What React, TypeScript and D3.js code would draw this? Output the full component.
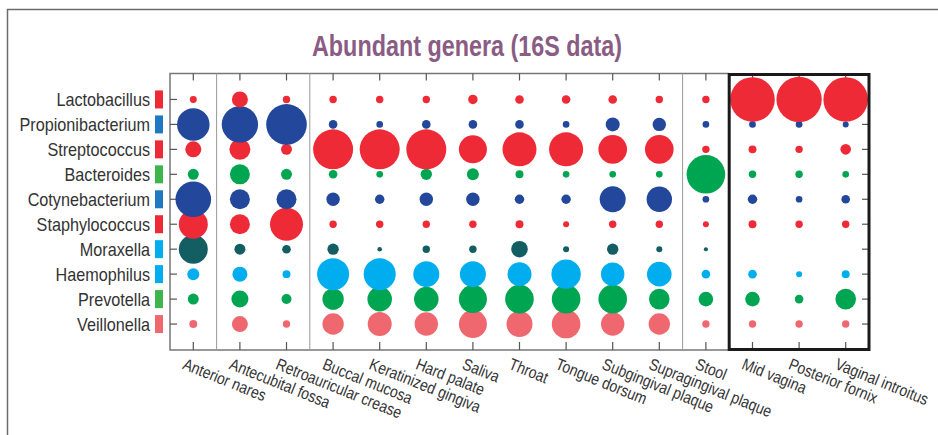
import * as d3 from "d3";

// sampling sites (columns)
const sites = [
  "Anterior nares",
  "Antecubital fossa",
  "Retroauricular crease",
  "Buccal mucosa",
  "Keratinized gingiva",
  "Hard palate",
  "Saliva",
  "Throat",
  "Tongue dorsum",
  "Subgingival plaque",
  "Supragingival plaque",
  "Stool",
  "Mid vagina",
  "Posterior fornix",
  "Vaginal introitus",
];

// genera (rows)
const genera = [
  "Lactobacillus",
  "Propionibacterium",
  "Streptococcus",
  "Bacteroides",
  "Cotynebacterium",
  "Staphylococcus",
  "Moraxella",
  "Haemophilus",
  "Prevotella",
  "Veillonella",
];

// relative abundance (%) per genus, one value per site
const lactobacillus = [2.3, 12.1, 2.6, 2.6, 2.6, 2.6, 4.2, 3.5, 3.5, 3.5, 2.6, 2.6, 94, 97, 94];
const propionibacterium = [50, 62.5, 78, 3.5, 2.1, 3.5, 3.5, 3.5, 2.1, 9.3, 8.5, 2.1, 2.1, 2.1, 1.7];
const streptococcus = [12.1, 20.8, 5.7, 75.6, 75.6, 75.6, 37.1, 54.6, 54.6, 38.7, 38.7, 2.6, 3.0, 2.6, 5.3];
const bacteroides = [5.7, 18.9, 5.7, 3.5, 2.1, 6.1, 6.8, 3.0, 2.1, 2.1, 2.1, 70.4, 2.6, 2.6, 2.1];
const cotynebacterium = [60, 18.9, 18.9, 8.5, 4.2, 8.5, 8.5, 4.2, 4.2, 31.9, 30.5, 2.1, 4.2, 2.1, 3.5];
const staphylococcus = [39.7, 18.9, 51.5, 2.6, 2.6, 2.6, 2.6, 3.0, 1.7, 2.6, 2.6, 1.7, 3.0, 2.6, 2.6];
const moraxella = [39.7, 5.7, 3.5, 6.1, 1.0, 2.6, 2.6, 13.0, 1.7, 6.1, 1.7, 0.8, 0, 0, 0];
const haemophilus = [6.8, 10.6, 3.0, 48.4, 48.4, 31.9, 31.9, 27.2, 40.8, 25.9, 28.6, 3.5, 3.5, 1.7, 3.0];
const prevotella = [5.7, 13.7, 4.7, 21.6, 28.6, 28.6, 37.1, 38.7, 38.7, 38.7, 20.1, 10.1, 10.1, 3.5, 20.1];
const veillonella = [3.0, 12.1, 2.6, 21.6, 27.2, 25.9, 37.1, 31.9, 38.7, 25.9, 21.6, 2.6, 2.6, 2.6, 2.6];

const values = [
  lactobacillus,
  propionibacterium,
  streptococcus,
  bacteroides,
  cotynebacterium,
  staphylococcus,
  moraxella,
  haemophilus,
  prevotella,
  veillonella,
];

const dotColors = ["#ED2A36", "#22479B", "#ED2A36", "#00A551", "#22479B", "#ED2A36", "#125E62", "#00AEEF", "#00A551", "#F0686F"];
const keyColors = ["#ED2A36", "#1F79C2", "#ED2A36", "#3DB54A", "#1F79C2", "#ED2A36", "#00AEEF", "#00AEEF", "#3DB54A", "#F0686F"];

// column groups split by vertical rules; the last group is boxed
const groupBreaks = [1, 3, 11];
const boxedFrom = 12;

const width = 938,
  height = 435;
const left = 170,
  right = 869,
  top = 73.5,
  bottom = 350;

export default function App() {
  const x = d3.scaleBand<string>().domain(sites).range([left, right]);
  const y = d3.scalePoint<string>().domain(genera).range([top, bottom]).padding(1.04);
  const r = d3.scaleSqrt().domain([0, 100]).range([0, 23]);
  const cx = (s: string) => x(s)! + x.bandwidth() / 2;
  // no condensed face installed, so squeeze Liberation Sans horizontally
  const font = "'Liberation Sans', Arial, sans-serif";
  const boxX = left + x.step() * boxedFrom;

  return (
    <svg
      width={width}
      height={height}
      style={{ position: "absolute", left: 0, top: 0, display: "block", background: "#fff" }}
    >
      {/* outer frame */}
      <path d={`M7.5,${height} V9.5 H${width}`} fill="none" stroke="#6b6b6b" strokeWidth={1.5} />

      <text
        x={467}
        y={56}
        textAnchor="middle"
        fontFamily={font}
        fontWeight="bold"
        fontSize={30}
        fill="#8A5C84"
        textLength={310}
        lengthAdjust="spacingAndGlyphs"
      >
        Abundant genera (16S data)
      </text>

      {/* plot frame */}
      <path
        d={`M${boxX},${top} H${left} V${bottom} H${boxX}`}
        fill="none"
        stroke="#777"
        strokeWidth={1.5}
      />
      {groupBreaks.map((b) => (
        <line
          key={b}
          x1={left + x.step() * b}
          x2={left + x.step() * b}
          y1={top}
          y2={bottom}
          stroke="#999"
          strokeWidth={1}
        />
      ))}

      {/* ticks */}
      {sites.map((s) => (
        <g key={s} stroke="#555" strokeWidth={1.2}>
          <line x1={cx(s)} x2={cx(s)} y1={top} y2={top + 7} />
          <line x1={cx(s)} x2={cx(s)} y1={bottom} y2={bottom - 8} />
        </g>
      ))}
      {genera.map((g) => (
        <g key={g} stroke="#555" strokeWidth={1.2}>
          <line x1={left} x2={left + 7} y1={y(g)} y2={y(g)} />
          <line x1={right} x2={right - 7} y1={y(g)} y2={y(g)} />
        </g>
      ))}

      {/* dots, top rows painted last */}
      {genera
        .map((g, gi) => ({ g, gi }))
        .reverse()
        .map(({ g, gi }) => (
          <g key={g} fill={dotColors[gi]}>
            {sites.map((s, si) =>
              values[gi][si] > 0 ? (
                <circle key={s} cx={cx(s)} cy={y(g)} r={r(values[gi][si])} />
              ) : null
            )}
          </g>
        ))}

      {/* boxed vaginal sites */}
      <rect
        x={boxX}
        y={top + 1}
        width={right - boxX}
        height={bottom - top - 1.5}
        fill="none"
        stroke="#1a1a1a"
        strokeWidth={3}
      />

      {/* row labels */}
      {genera.map((g, gi) => (
        <g key={g}>
          <text
            transform={`translate(150,${y(g)}) scale(0.9,1)`}
            dy="0.36em"
            textAnchor="end"
            fontFamily={font}
            fontSize={18}
            fill="#333"
          >
            {g}
          </text>
          <rect x={155} y={y(g)! - 9} width={8} height={18} fill={keyColors[gi]} />
        </g>
      ))}

      {/* column labels */}
      {sites.map((s) => (
        <text
          key={s}
          transform={`translate(${cx(s) - 7},${357}) rotate(22) scale(0.85,1)`}
          dy="0.75em"
          fontFamily={font}
          fontSize={16.5}
          fill="#333"
        >
          {s}
        </text>
      ))}
    </svg>
  );
}
